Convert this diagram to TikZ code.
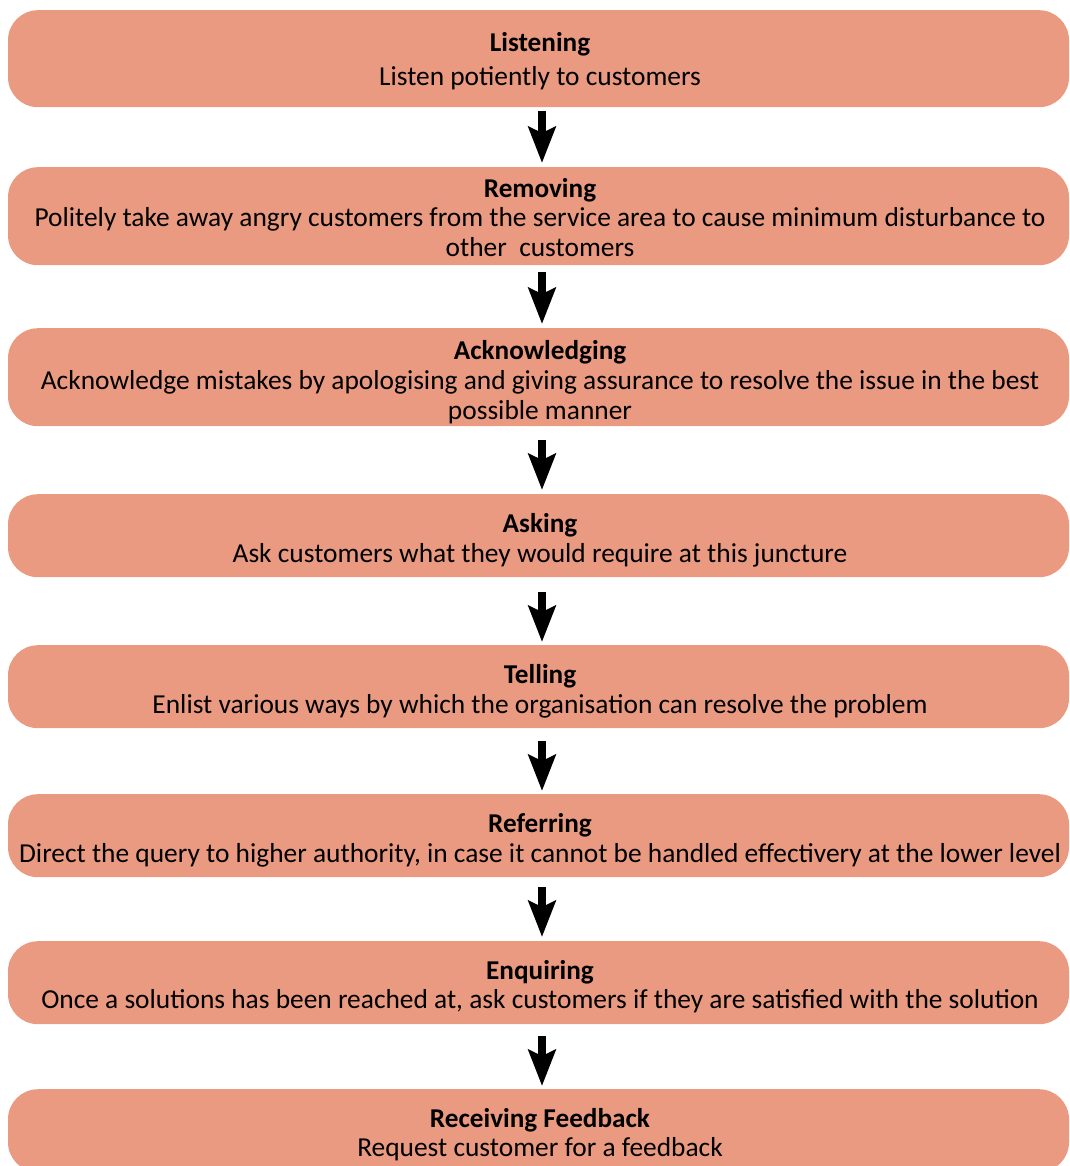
\documentclass[tikz,border=0pt]{standalone}
\usepackage{fontspec}
\setmainfont{Carlito}
\usetikzlibrary{arrows.meta}
\definecolor{boxfill}{HTML}{EA9A81}
\tikzset{
  stepbox/.style={fill=boxfill, draw=none, rounded corners=30pt, minimum width=1061pt, inner sep=0pt, anchor=north},
  ttl/.style={anchor=base, inner sep=0pt, font=\fontsize{27.2}{30}\selectfont\bfseries},
  dsc/.style={anchor=base, inner sep=0pt, font=\fontsize{27.4}{30}\selectfont},
  arr/.style={line width=8.5pt, -{Stealth[length=36pt,width=27pt,inset=6pt]}},
}
\begin{document}
\begin{tikzpicture}[x=1pt,y=-1pt]
\useasboundingbox (0,0) rectangle (1069,1166);
\clip (0,0) rectangle (1069,1166);
% boxes
\node[stepbox, minimum height=97pt] (b1) at (538.5,10) {};
\node[stepbox, minimum height=98pt] (b2) at (538.5,167) {};
\node[stepbox, minimum height=98pt] (b3) at (538.5,328) {};
\node[stepbox, minimum height=83pt] (b4) at (538.5,494) {};
\node[stepbox, minimum height=83pt] (b5) at (538.5,645) {};
\node[stepbox, minimum height=83pt] (b6) at (538.5,794) {};
\node[stepbox, minimum height=83pt] (b7) at (538.5,941) {};
\node[stepbox, minimum height=83pt] (b8) at (538.5,1089) {};
% texts
\node[ttl] (t1) at (540,52) {Listening};
\node[dsc] (d1) at (540,86) {Listen potiently to customers};
\node[ttl] (t2) at (540,198) {Removing};
\node[dsc] (d2a) at (540,227) {Politely take away angry customers from the service area to cause minimum disturbance to};
\node[dsc] (d2b) at (540,257) {other\ \ customers};
\node[ttl] (t3) at (540,359) {Acknowledging};
\node[dsc] (d3a) at (540,389) {Acknowledge mistakes by apologising and giving assurance to resolve the issue in the best};
\node[dsc] (d3b) at (540,419) {possible manner};
\node[ttl] (t4) at (540,532) {Asking};
\node[dsc] (d4) at (540,562) {Ask customers what they would require at this juncture};
\node[ttl] (t5) at (540,683) {Telling};
\node[dsc] (d5) at (540,713) {Enlist various ways by which the organisation can resolve the problem};
\node[ttl] (t6) at (540,832) {Referring};
\node[dsc] (d6) at (540,862) {Direct the query to higher authority, in case it cannot be handled effectivery at the lower level};
\node[ttl] (t7) at (540,979) {Enquiring};
\node[dsc] (d7) at (540,1008) {Once a solutions has been reached at, ask customers if they are satisfied with the solution};
\node[ttl] (t8) at (540,1127) {Receiving Feedback};
\node[dsc] (d8) at (540,1156) {Request customer for a feedback};
% arrows
\coordinate (ax) at (542,0);
\draw[arr, shorten <=4pt, shorten >=4pt] (b1.south -| ax) -- (b2.north -| ax);
\draw[arr, shorten <=7pt, shorten >=4pt] (b2.south -| ax) -- (b3.north -| ax);
\draw[arr, shorten <=14pt, shorten >=4pt] (b3.south -| ax) -- (b4.north -| ax);
\draw[arr, shorten <=15pt, shorten >=3pt] (b4.south -| ax) -- (b5.north -| ax);
\draw[arr, shorten <=13pt, shorten >=3pt] (b5.south -| ax) -- (b6.north -| ax);
\draw[arr, shorten <=10pt, shorten >=4pt] (b6.south -| ax) -- (b7.north -| ax);
\draw[arr, shorten <=12pt, shorten >=3pt] (b7.south -| ax) -- (b8.north -| ax);
\end{tikzpicture}
\end{document}
